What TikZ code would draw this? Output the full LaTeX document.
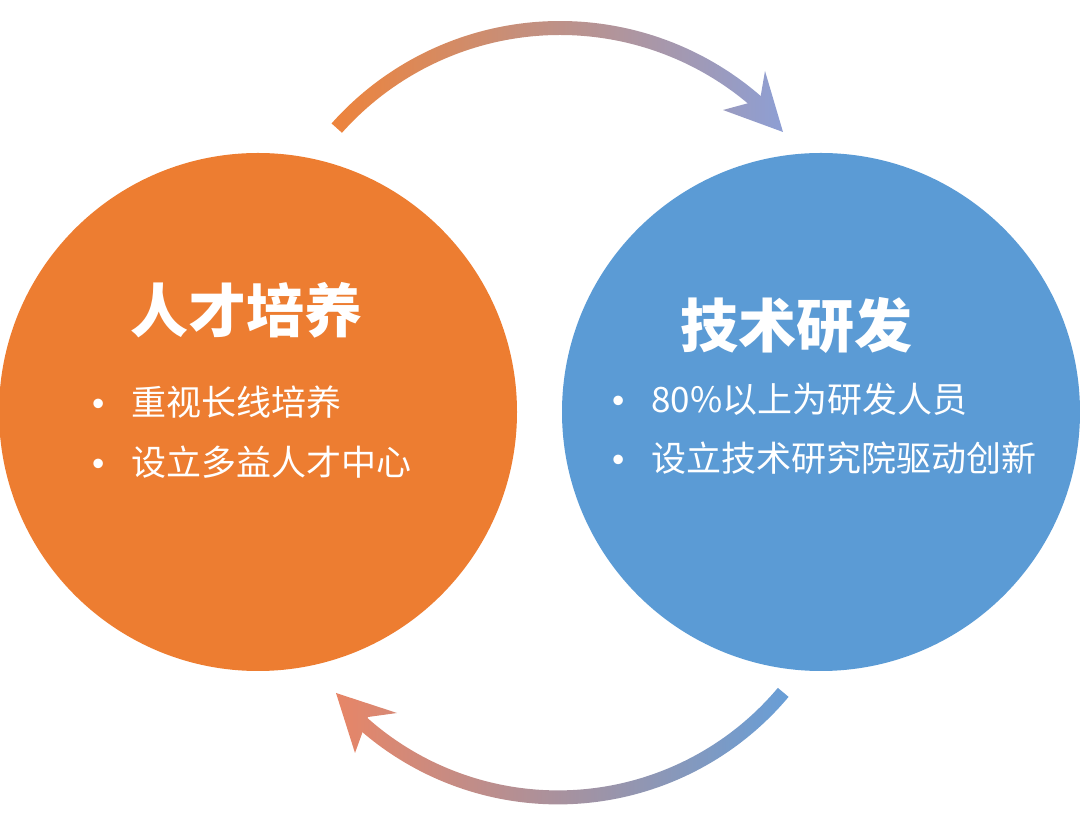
\documentclass[tikz,border=0pt]{standalone}
\usepackage{fontspec}
\usepackage{tikz}
\newfontfamily\cjk{Noto Sans CJK SC}
\newfontfamily\dotfont{Liberation Sans}
\definecolor{talentorange}{HTML}{ED7D31}
\definecolor{rdblue}{HTML}{5B9BD5}
\newcommand{\itemdot}{\makebox[39pt][l]{\dotfont •}}

\begin{document}
\begin{tikzpicture}
		[x=1pt, y=1pt, font=\cjk,
		ball/.style={circle, inner sep=0pt, minimum size=518pt},
		title/.style={anchor=west, inner sep=0pt, text=white, font=\cjk\bfseries\fontsize{58}{60}\selectfont},
		item/.style={anchor=west, inner sep=0pt, text=white, font=\cjk\fontsize{35}{40}\selectfont}]
		\useasboundingbox (0,0) rectangle (1080,825);
		
		% the two circles
		\node [ball, fill=talentorange] (talent) at (258,413) {};
		\node [ball, fill=rdblue] (rd) at (821,413) {};
		
		\node [title] (t1) at (130,515) {人才培养};
		\node [item] (t1a) at (92,423) {\itemdot 重视长线培养};
		\node [item] (t1b) at (92,363) {\itemdot 设立多益人才中心};
		
		\node [title] (t2) at (680,500) {技术研发};
		\node [item] (t2a) at (612,426) {\itemdot 80\%以上为研发人员};
		\node [item] (t2b) at (612,367) {\itemdot 设立技术研究院驱动创新};
		
		% arc centres
		\coordinate (topc) at (560,498);
		\coordinate (botc) at (558,321.6);
		
		% upper arrow: talent -> rd
		\begin{scope}
		\clip ([shift={(138.3:306)}]topc) arc[start angle=138.3, end angle=47, radius=306]
		-- ([shift={(47:292)}]topc) arc[start angle=47, end angle=138.3, radius=292] -- cycle;
		\shade [left color=talentorange!95!white, middle color={rgb,255:red,224;green,138;blue,123}, right color={rgb,255:red,140;green,159;blue,214}] (330,0) rectangle (790,825);
		\end{scope}
		\begin{scope}
		\clip (783,693) -- (723,715) -- (760,725) -- (765,754) -- cycle;
		\shade [left color=talentorange!95!white, middle color={rgb,255:red,224;green,138;blue,123}, right color={rgb,255:red,140;green,159;blue,214}] (330,0) rectangle (790,825);
		\end{scope}
		
		% lower arrow: rd -> talent
		\begin{scope}
		\clip ([shift={(-40:301)}]botc) arc[start angle=-40, end angle=-133, radius=301]
		-- ([shift={(-133:287)}]botc) arc[start angle=-133, end angle=-40, radius=287] -- cycle;
		\shade [left color={rgb,255:red,233;green,133;blue,101}, middle color={rgb,255:red,165;green,154;blue,195}, right color={rgb,255:red,103;green,158;blue,215}] (330,0) rectangle (790,825);
		\end{scope}
		\begin{scope}
		\clip (336,132) -- (397,112) -- (368,108) -- (355,72) -- cycle;
		\shade [left color={rgb,255:red,233;green,133;blue,101}, middle color={rgb,255:red,165;green,154;blue,195}, right color={rgb,255:red,103;green,158;blue,215}] (330,0) rectangle (790,825);
		\end{scope}
		\end{tikzpicture}
\end{document}
